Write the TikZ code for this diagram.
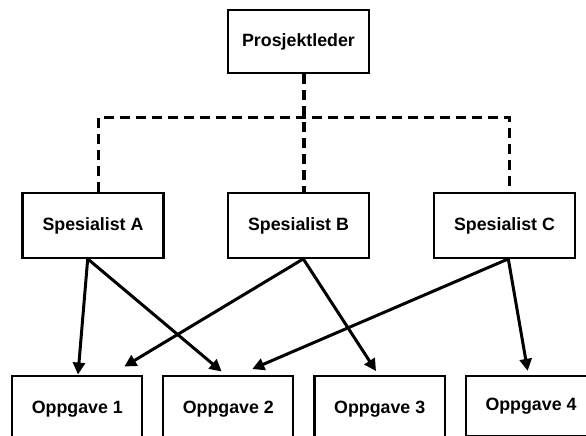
\documentclass[tikz,border=0pt]{standalone}
\usepackage{fontspec}
\setmainfont{Liberation Sans}
\usetikzlibrary{arrows.meta}
\begin{document}
\begin{tikzpicture}[x=1pt,y=-1pt,
  box/.style={draw=black,line width=2.3pt,fill=white,inner sep=0pt,
    font=\bfseries\fontsize{17.8}{20}\selectfont},
  lead/.style={box,minimum width=141pt,minimum height=63pt},
  spec/.style={box,minimum width=141pt,minimum height=64.5pt},
  task/.style={box,minimum width=130pt,minimum height=66pt},
  dashline/.style={line width=3.2pt,dash pattern=on 10pt off 6pt},
  link/.style={line width=3pt,-{Triangle[length=12pt,width=12pt]}}]
\clip (0,0) rectangle (586,436);
\fill[white] (0,0) rectangle (586,436);

% hierarchy boxes
\node[lead] (P) at (298.5,41.5) {Prosjektleder};
\node[spec] (A) at (93,225.5) {Spesialist A};
\node[spec] (B) at (298.5,225.5) {Spesialist B};
\node[spec] (C) at (504.5,225.5) {Spesialist C};
\node[task] (O1) at (77.3,408.7) {Oppgave 1};
\node[task] (O2) at (228.3,408.7) {Oppgave 2};
\node[task,minimum width=130.7pt] (O3) at (379.7,408.7) {Oppgave 3};
\node[task,minimum height=60pt] (O4) at (531,406) {Oppgave 4};

% dashed reporting lines
\coordinate (busL) at (98.3,117.7);
\coordinate (busR) at (509.3,117.7);
\draw[dashline] ([xshift=5.3pt]A.north) -- (busL) -- (busR) -- ([xshift=4.8pt]C.north);
\draw[dashline] ([xshift=5.5pt]P.south) -- ([xshift=5.5pt]B.north);

% task assignments
\draw[link] ([xshift=-5.3pt]A.south) -- ([xshift=0.7pt]O1.north);
\draw[link] ([xshift=-5.3pt]A.south) -- ([xshift=-6.6pt,yshift=3pt]O2.north);
\draw[link] ([xshift=4.8pt]B.south) -- ([xshift=47pt,yshift=8pt]O1.north);
\draw[link] ([xshift=4.8pt]B.south) -- ([xshift=-3.7pt,yshift=3.5pt]O3.north);
\draw[link] ([xshift=3.8pt]C.south) -- ([xshift=24pt,yshift=5.5pt]O2.north);
\draw[link] ([xshift=3.8pt]C.south) -- ([xshift=-3.3pt,yshift=4pt]O4.north);
\end{tikzpicture}
\end{document}
